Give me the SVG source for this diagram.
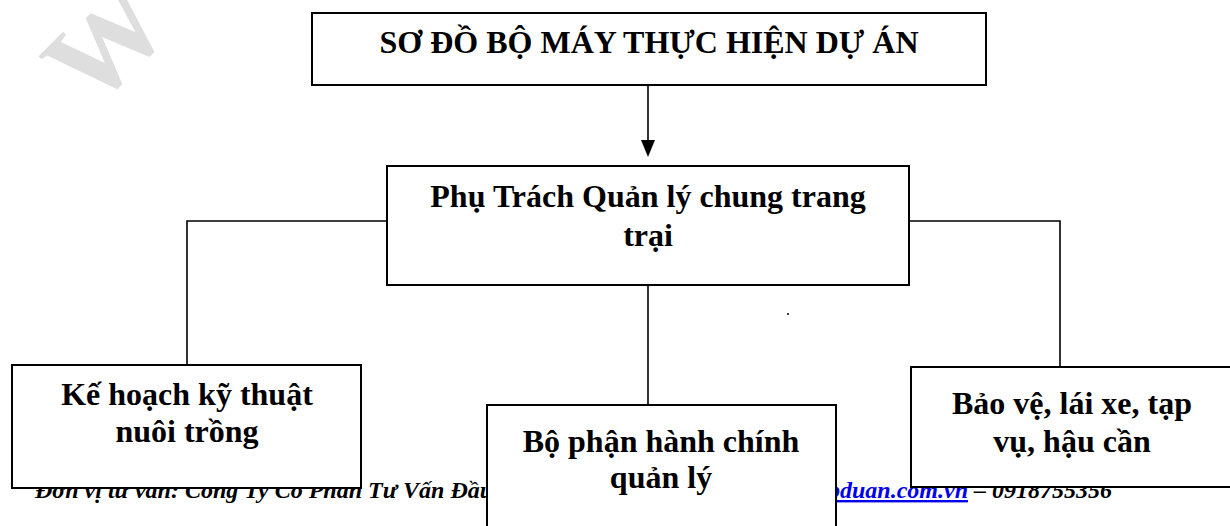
<svg xmlns="http://www.w3.org/2000/svg" width="1230" height="526" viewBox="0 0 1230 526">
<style>
.box{fill:#fff;stroke:#000;stroke-width:2}
.lbl{font-family:"Liberation Serif","Times New Roman",serif;font-weight:bold;font-size:32px;fill:#000;text-anchor:middle}
.con{fill:none;stroke:#000;stroke-width:1.6}
.foot{font-family:"Liberation Serif","Times New Roman",serif;font-weight:bold;font-style:italic;font-size:24px;fill:#000}
</style>
<rect width="1230" height="526" fill="#fff"/>
<text x="92" y="112" transform="rotate(-45 92 112)" font-family="Liberation Serif, serif" font-weight="bold" font-size="118" fill="#dedede">W</text>
<g id="footer">
<text class="foot" x="35" y="498">Đơn vị tư vấn: Công Ty Cổ Phần Tư Vấn Đầu</text>
<text class="foot" x="1112" y="498" text-anchor="end"><tspan fill="#0000ee" text-decoration="underline">lapduan.com.vn</tspan> – 0918755356</text>
</g>
<g id="connectors">
<line class="con" x1="648" y1="86" x2="648" y2="142"/>
<polygon points="641,140 655,140 648,157" fill="#000"/>
<polyline class="con" points="387,221 187,221 187,364"/>
<polyline class="con" points="909,221 1060,221 1060,367"/>
<line class="con" x1="648" y1="285" x2="648" y2="405"/>
</g>
<circle cx="788" cy="314" r="1" fill="#000"/>
<g id="title">
<rect class="box" x="312" y="13" width="674" height="72"/>
<text class="lbl" x="649" y="53">SƠ ĐỒ BỘ MÁY THỰC HIỆN DỰ ÁN</text>
</g>
<g id="manager">
<rect class="box" x="387" y="166" width="522" height="119"/>
<text class="lbl" x="648" y="207">Phụ Trách Quản lý chung trang</text>
<text class="lbl" x="648" y="246">trại</text>
</g>
<g id="planning">
<rect class="box" x="12" y="365" width="349" height="123"/>
<text class="lbl" x="187" y="405">Kế hoạch kỹ thuật</text>
<text class="lbl" x="187" y="442">nuôi trồng</text>
</g>
<g id="admin">
<rect class="box" x="487" y="405" width="349" height="130"/>
<text class="lbl" x="661" y="452">Bộ phận hành chính</text>
<text class="lbl" x="661" y="488">quản lý</text>
</g>
<g id="security">
<rect class="box" x="911" y="367" width="330" height="120"/>
<text class="lbl" x="1072" y="414">Bảo vệ, lái xe, tạp</text>
<text class="lbl" x="1072" y="452">vụ, hậu cần</text>
</g>
</svg>
